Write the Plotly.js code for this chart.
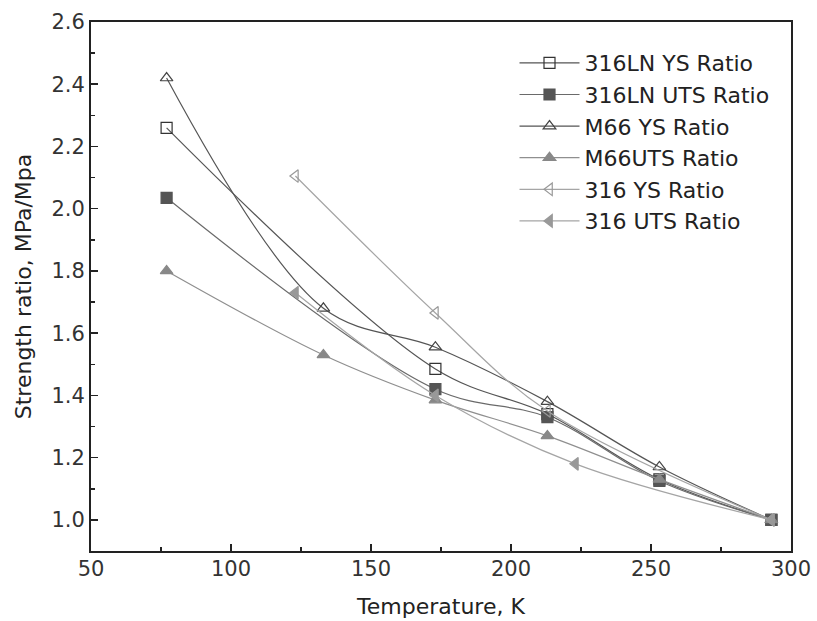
<!DOCTYPE html>
<html>
<head>
<meta charset="utf-8">
<script src="https://cdn.plot.ly/plotly-3.0.1.min.js"></script>
<style>html,body{margin:0;padding:0;background:#fff;}#chart{width:817px;height:621px;}</style>
</head>
<body>
<div id="chart"></div>
<script>
// Series data (Temperature K, strength ratio)
const seriesNames = ["316LN YS Ratio", "316LN UTS Ratio", "M66 YS Ratio", "M66UTS Ratio", "316 YS Ratio", "316 UTS Ratio"];
const t316LN = [77, 173, 213, 253, 293];
const ys316LN = [2.26, 1.485, 1.34, 1.13, 1.0];
const uts316LN = [2.035, 1.42, 1.33, 1.125, 1.0];
const tM66 = [77, 133, 173, 213, 253, 293];
const ysM66 = [2.42, 1.68, 1.555, 1.38, 1.17, 1.0];
const utsM66 = [1.80, 1.53, 1.385, 1.27, 1.13, 1.0];
const t316YS = [123, 173, 213, 293];
const ys316 = [2.105, 1.665, 1.35, 1.0];
const t316UTS = [123, 173, 223, 293];
const uts316 = [1.73, 1.40, 1.18, 1.0];

const xTickVals = [50, 100, 150, 200, 250, 300];
const yTickVals = [1.0, 1.2, 1.4, 1.6, 1.8, 2.0, 2.2, 2.4, 2.6];

const styles = [
  {sym: "square-open", mc: "#333", lc: "#555"},
  {sym: "square", mc: "#555", lc: "#6a6a6a"},
  {sym: "triangle-up-open", mc: "#444", lc: "#555"},
  {sym: "triangle-up", mc: "#888", lc: "#8f8f8f"},
  {sym: "triangle-left-open", mc: "#999", lc: "#a5a5a5"},
  {sym: "triangle-left", mc: "#999", lc: "#a5a5a5"}
];
const xs = [t316LN, t316LN, tM66, tM66, t316YS, t316UTS];
const ys = [ys316LN, uts316LN, ysM66, utsM66, ys316, uts316];

const traces = seriesNames.map((n, i) => ({
  type: "scatter", mode: "lines+markers", name: n,
  x: xs[i], y: ys[i], legendgroup: "g" + i,
  line: {color: styles[i].lc, width: 1.2, shape: "spline", smoothing: 1},
  marker: {symbol: styles[i].sym, size: 11, color: styles[i].mc,
           line: {color: styles[i].mc, width: 1.2}}
}));

const fontFam = "DejaVu Sans, Liberation Sans, Arial, sans-serif";
const layout = {
  width: 817, height: 621,
  margin: {l: 91, r: 26, t: 22, b: 70},
  paper_bgcolor: "#fff", plot_bgcolor: "#fff",
  font: {family: fontFam, color: "#333", size: 20},
  showlegend: true,
  legend: {x: 0.605, y: 0.962, xanchor: "left", yanchor: "top",
           bgcolor: "rgba(0,0,0,0)", font: {size: 22, color: "#222"},
           traceorder: "grouped", tracegroupgap: 0, itemwidth: 60},
  xaxis: {range: [50, 300], tickvals: xTickVals, ticks: "inside", ticklen: 7, tickwidth: 1.5,
          tickcolor: "#222", showline: true, linecolor: "#222", linewidth: 2, mirror: true,
          showgrid: false, zeroline: false, ticklabelstandoff: -2,
          minor: {dtick: 25, ticks: "inside", ticklen: 4, tickcolor: "#222"},
          tickfont: {size: 21, color: "#333"},
          title: {text: "Temperature, K", font: {size: 22, color: "#222"}, standoff: 18}},
  yaxis: {range: [0.9, 2.6], tickvals: yTickVals, tickformat: ".1f", ticks: "inside", ticklen: 7, tickwidth: 1.5,
          tickcolor: "#222", showline: true, linecolor: "#222", linewidth: 2, mirror: true,
          showgrid: false, zeroline: false,
          minor: {dtick: 0.1, ticks: "inside", ticklen: 4, tickcolor: "#222"},
          tickfont: {size: 21, color: "#333"},
          title: {text: "Strength ratio, MPa/Mpa", font: {size: 22, color: "#222"}, standoff: 14}}
};
Plotly.newPlot("chart", traces, layout, {displayModeBar: false, staticPlot: true});
</script>
</body>
</html>
